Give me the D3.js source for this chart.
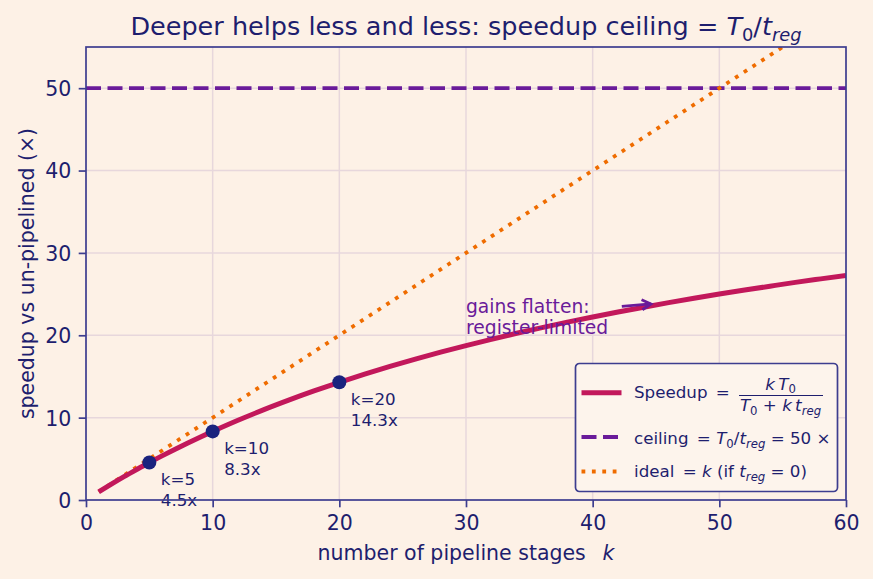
<!DOCTYPE html>
<html>
<head>
<meta charset="utf-8">
<script src="https://cdn.jsdelivr.net/npm/d3@7"></script>
<style>
  html, body { margin: 0; padding: 0; background: #fdf1e6; }
  svg { display: block; font-family: "DejaVu Sans", sans-serif; }
</style>
</head>
<body>
<div id="chart"></div>
<script>
// pipeline depth k and speedup (ceiling 50x)
var stages   = [1, 2, 3, 4, 5, 6, 7, 8, 9, 10, 12, 14, 16, 18, 20, 22, 24, 26, 28, 30,
                32, 34, 36, 38, 40, 42, 44, 46, 48, 50, 52, 54, 56, 58, 60];
var speedups = [0.98, 1.92, 2.83, 3.70, 4.55, 5.36, 6.14, 6.90, 7.63, 8.33, 9.68, 10.94,
                12.12, 13.24, 14.29, 15.28, 16.22, 17.11, 17.95, 18.75, 19.51, 20.24,
                20.93, 21.59, 22.22, 22.83, 23.40, 23.96, 24.49, 25.00, 25.49, 25.96,
                26.42, 26.85, 27.27];
var ceiling = 50;
var idealK = [1, 60];
var markK = [5, 10, 20];
var markS = [4.55, 8.33, 14.29];
var markLabels = ["4.5x", "8.3x", "14.3x"];
var xTicks = [0, 10, 20, 30, 40, 50, 60];
var yTicks = [0, 10, 20, 30, 40, 50];
var noteText = ["gains flatten:", "register-limited"];
var noteAt = [30, 20];          // text anchor (k, speedup)
var noteArrow = [[42.3, 23.5], [44.6, 23.8]];

var W = 873, H = 579;
var margin = {top: 47, right: 27, bottom: 79, left: 86};
var width = W - margin.left - margin.right,
    height = H - margin.top - margin.bottom;

var navy = "#1e1e6e", spine = "#3d3d8f";
var cCurve = "#c2185b", cCeil = "#6a1b9a", cIdeal = "#ef6c00", cMark = "#1a237e";
var fsTick = 20.5, fsLab = 20.5, fsTitle = 25.5, fsNote = 18.7, fsSmall = 16.7;

// writes simple math: parts are [text, "i"|"r"|"si"|"sr"] (italic, roman, subscripts)
function mathText(sel, parts, fs) {
  var base = 0;
  parts.forEach(function(p) {
    var sub = p[1][0] === "s";
    var shift = sub ? 0.22 * fs : 0;
    var t = sel.append("tspan")
        .attr("dy", shift - base)
        .attr("font-size", sub ? fs * 0.7 : fs)
        .attr("font-style", p[1].indexOf("i") >= 0 ? "italic" : "normal")
        .text(p[0]);
    base = shift;
  });
}

var x = d3.scaleLinear().domain([0, 60]).range([0, width]);
var y = d3.scaleLinear().domain([0, 55]).range([height, 0]);

var svg = d3.select("#chart").append("svg")
    .attr("width", W).attr("height", H);

svg.append("rect").attr("width", W).attr("height", H).attr("fill", "#fdf1e6");

svg.append("defs").append("clipPath").attr("id", "clip")
    .append("rect").attr("width", width).attr("height", height);

var g = svg.append("g").attr("transform", "translate(" + margin.left + "," + margin.top + ")");

// grid
g.append("g").selectAll("line").data(xTicks.slice(1, -1)).enter().append("line")
    .attr("x1", d => x(d)).attr("x2", d => x(d)).attr("y1", 0).attr("y2", height)
    .attr("stroke", "#e7d7dc").attr("stroke-width", 1.5);
g.append("g").selectAll("line").data(yTicks.slice(1)).enter().append("line")
    .attr("y1", d => y(d)).attr("y2", d => y(d)).attr("x1", 0).attr("x2", width)
    .attr("stroke", "#e7d7dc").attr("stroke-width", 1.5);

var plot = g.append("g").attr("clip-path", "url(#clip)");

// ceiling
plot.append("line")
    .attr("x1", x(0)).attr("x2", x(60)).attr("y1", y(ceiling)).attr("y2", y(ceiling))
    .attr("stroke", cCeil).attr("stroke-width", 3.8).attr("stroke-dasharray", "15,6.5");

// ideal
plot.append("path")
    .datum(idealK)
    .attr("d", d3.line().x(d => x(d)).y(d => y(d)))
    .attr("fill", "none").attr("stroke", cIdeal).attr("stroke-width", 3.8)
    .attr("stroke-dasharray", "3.8,6.6");

// speedup curve
var pts = stages.map((k, i) => [k, speedups[i]]);
plot.append("path")
    .datum(pts)
    .attr("d", d3.line().x(d => x(d[0])).y(d => y(d[1])).curve(d3.curveMonotoneX))
    .attr("fill", "none").attr("stroke", cCurve).attr("stroke-width", 5);

// markers
var marks = g.append("g").selectAll("g").data(markK).enter().append("g")
    .attr("transform", (d, i) => "translate(" + x(d) + "," + y(markS[i]) + ")");
marks.append("circle").attr("r", 7).attr("fill", cMark);
marks.append("text").attr("x", 11.5).attr("y", 22.5)
    .attr("font-size", fsSmall).attr("fill", navy)
    .text(d => "k=" + d);
marks.append("text").attr("x", 11.5).attr("y", 43.5)
    .attr("font-size", fsSmall).attr("fill", navy)
    .text((d, i) => markLabels[i]);

// annotation
var a0 = [x(noteArrow[0][0]), y(noteArrow[0][1])], a1 = [x(noteArrow[1][0]), y(noteArrow[1][1])];
var ang = Math.atan2(a1[1] - a0[1], a1[0] - a0[0]);
g.append("line")
    .attr("x1", a0[0]).attr("y1", a0[1]).attr("x2", a1[0]).attr("y2", a1[1])
    .attr("stroke", cCeil).attr("stroke-width", 2.8);
g.append("path")
    .attr("d", "M-9,-5 L0,0 L-9,5")
    .attr("transform", "translate(" + a1[0] + "," + a1[1] + ") rotate(" + ang * 180 / Math.PI + ")")
    .attr("fill", "none").attr("stroke", cCeil).attr("stroke-width", 2.8)
    .attr("stroke-linejoin", "miter");
g.append("g").selectAll("text").data(noteText).enter().append("text")
    .attr("x", x(noteAt[0])).attr("y", (d, i) => y(noteAt[1]) - 22 + i * 21)
    .attr("font-size", fsNote).attr("fill", cCeil)
    .text(d => d);

// axes
var xAxis = g.append("g").attr("transform", "translate(0," + height + ")")
    .call(d3.axisBottom(x).tickValues(xTicks).tickSize(7.3).tickPadding(7));
var yAxis = g.append("g")
    .call(d3.axisLeft(y).tickValues(yTicks).tickSize(7.3).tickPadding(7.3));
[xAxis, yAxis].forEach(a => {
  a.select(".domain").remove();
  a.selectAll("line").attr("stroke", spine).attr("stroke-width", 1.7);
  a.selectAll("text").attr("fill", navy).attr("font-size", fsTick)
    .attr("font-family", "DejaVu Sans");
});
xAxis.selectAll("text").attr("dy", "0.76em");
yAxis.selectAll("text").attr("dy", "0.36em");
g.append("rect").attr("width", width).attr("height", height)
    .attr("fill", "none").attr("stroke", spine).attr("stroke-width", 1.7);

// labels
var xl = svg.append("text")
    .attr("x", margin.left + width / 2).attr("y", 560)
    .attr("text-anchor", "middle").attr("fill", navy);
mathText(xl, [["number of pipeline stages\u2002 ", "r"], ["k", "i"]], fsLab);
svg.append("text")
    .attr("transform", "translate(34," + (margin.top + height / 2) + ") rotate(-90)")
    .attr("text-anchor", "middle").attr("font-size", fsLab).attr("fill", navy)
    .text("speedup vs un-pipelined (\u00d7)");
var tt = svg.append("text")
    .attr("x", margin.left + width / 2).attr("y", 35)
    .attr("text-anchor", "middle").attr("fill", navy);
mathText(tt, [["Deeper helps less and less: speedup ceiling = ", "r"], ["T", "i"], ["0", "sr"],
              ["/", "r"], ["t", "i"], ["reg", "si"]], fsTitle);

// legend
var lg = svg.append("g").attr("transform", "translate(575.5,363.5)");
lg.append("rect").attr("width", 262).attr("height", 128).attr("rx", 4)
    .attr("fill", "#fdf4ec").attr("stroke", spine).attr("stroke-width", 1.7);
var ly = [29.3, 73.5, 108];
var lx = 58.5;
lg.append("line").attr("x1", 6).attr("x2", 46).attr("y1", ly[0]).attr("y2", ly[0])
    .attr("stroke", cCurve).attr("stroke-width", 5);
lg.append("line").attr("x1", 6).attr("x2", 46).attr("y1", ly[1]).attr("y2", ly[1])
    .attr("stroke", cCeil).attr("stroke-width", 3.8).attr("stroke-dasharray", "15,6.5");
lg.append("line").attr("x1", 6).attr("x2", 46).attr("y1", ly[2]).attr("y2", ly[2])
    .attr("stroke", cIdeal).attr("stroke-width", 3.8).attr("stroke-dasharray", "3.8,6.6");

var lt = lg.append("g").attr("fill", navy);
mathText(lt.append("text").attr("x", lx).attr("y", ly[0] + 5.5),
    [["Speedup\u2002=", "r"]], fsSmall);
mathText(lt.append("text").attr("x", 205).attr("y", ly[0] - 3).attr("text-anchor", "middle"),
    [["k\u2009T", "i"], ["0", "sr"]], fsSmall);
lg.append("line").attr("x1", 163.5).attr("x2", 247.5).attr("y1", ly[0] + 2.7).attr("y2", ly[0] + 2.7)
    .attr("stroke", navy).attr("stroke-width", 1.2);
mathText(lt.append("text").attr("x", 205).attr("y", ly[0] + 18.5).attr("text-anchor", "middle"),
    [["T", "i"], ["0", "sr"], [" + ", "r"], ["k\u2009t", "i"], ["reg", "si"]], fsSmall);
mathText(lt.append("text").attr("x", lx).attr("y", ly[1] + 7),
    [["ceiling\u2002= ", "r"], ["T", "i"], ["0", "sr"], ["/", "r"], ["t", "i"], ["reg", "si"],
     [" = 50 \u00d7", "r"]], fsSmall);
mathText(lt.append("text").attr("x", lx).attr("y", ly[2] + 5.5),
    [["ideal\u2002= ", "r"], ["k", "i"], [" (if ", "r"], ["t", "i"], ["reg", "si"], [" = 0)", "r"]], fsSmall);
</script>
</body>
</html>
